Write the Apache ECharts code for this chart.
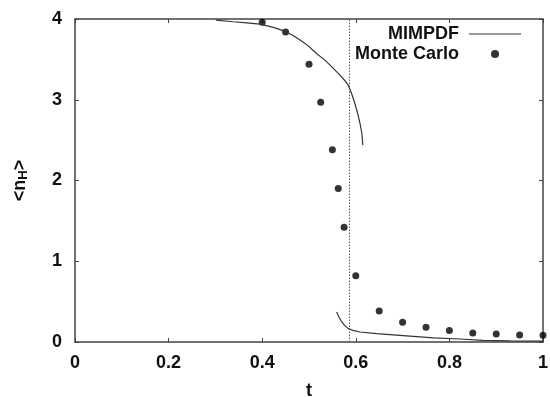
<!DOCTYPE html>
<html>
<head>
<meta charset="utf-8">
<script src="https://cdn.jsdelivr.net/npm/echarts@6/dist/echarts.min.js"></script>
<style>
  html, body { margin: 0; padding: 0; background: #fff; }
  #chart { width: 550px; height: 397px; }
</style>
</head>
<body>
<div id="chart"></div>
<script>
// MIMPDF prediction, upper (ordered) branch: [t, <n_H>]
const mimpdfUpperT = [0.301, 0.338, 0.367, 0.395, 0.424, 0.449, 0.466, 0.481, 0.499, 0.516, 0.534,
                      0.552, 0.566, 0.577, 0.584, 0.591, 0.598, 0.604, 0.609, 0.613, 0.615];
const mimpdfUpperN = [3.986, 3.966, 3.953, 3.937, 3.896, 3.846, 3.796, 3.739, 3.664, 3.573, 3.491,
                      3.388, 3.305, 3.235, 3.181, 3.078, 2.954, 2.830, 2.706, 2.582, 2.437];

// MIMPDF prediction, lower branch
const mimpdfLowerT = [0.559, 0.564, 0.570, 0.577, 0.584, 0.596, 0.609, 0.645, 0.701, 0.766, 0.823, 0.872, 0.93, 1.0];
const mimpdfLowerN = [0.372, 0.31, 0.248, 0.20, 0.166, 0.14, 0.124, 0.104, 0.079, 0.050, 0.037, 0.021, 0.015, 0.012];

// Monte Carlo results
const mcT = [0.40, 0.45, 0.50, 0.525, 0.55, 0.5625, 0.575, 0.60, 0.65, 0.70, 0.75, 0.80, 0.85, 0.90, 0.95, 1.00];
const mcN = [3.96, 3.84, 3.44, 2.97, 2.38, 1.90, 1.42, 0.82, 0.384, 0.244, 0.182, 0.141, 0.112, 0.099, 0.087, 0.083];

// transition temperature marker
const tTransition = 0.585;

const xTicks = [0, 0.2, 0.4, 0.6, 0.8, 1];
const yTicks = [0, 1, 2, 3, 4];

const zip = (a, b) => a.map((v, i) => [v, b[i]]);

const FONT = '"Liberation Sans", Arial, sans-serif';
const axisColor = '#444';
const curveColor = '#333';

const xLabelFmt = v => {
  const r = Math.round(v * 10) / 10;
  return xTicks.some(t => Math.abs(t - r) < 1e-9) ? String(r) : '';
};

function baseX(pos, showLabels) {
  return {
    type: 'value', position: pos, min: 0, max: 1, interval: 0.2,
    axisLine: { show: true, onZero: false, lineStyle: { color: axisColor, width: 1.5 } },
    axisTick: { show: true, inside: true, length: 4, lineStyle: { color: axisColor, width: 1 } },
    splitLine: { show: false },
    axisLabel: {
      show: showLabels, formatter: xLabelFmt, margin: 12,
      color: '#111', fontFamily: FONT, fontWeight: 'bold', fontSize: 18
    }
  };
}
function baseY(pos, showLabels) {
  return {
    type: 'value', position: pos, min: 0, max: 4, interval: 1,
    axisLine: { show: true, onZero: false, lineStyle: { color: axisColor, width: 1.5 } },
    axisTick: { show: true, inside: true, length: 4, lineStyle: { color: axisColor, width: 1 } },
    splitLine: { show: false },
    axisLabel: {
      show: showLabels, margin: 13,
      color: '#111', fontFamily: FONT, fontWeight: 'bold', fontSize: 18
    }
  };
}

const xAxes = [baseX('bottom', true), baseX('top', false)];
xAxes[0].name = 't';
xAxes[0].nameLocation = 'middle';
xAxes[0].nameGap = 40;
xAxes[0].nameTextStyle = { color: '#111', fontFamily: FONT, fontWeight: 'bold', fontSize: 18 };

const yAxes = [baseY('left', true), baseY('right', false)];
yAxes[0].name = '<n{sub|H}>';
yAxes[0].nameLocation = 'middle';
yAxes[0].nameGap = 45;
yAxes[0].nameRotate = 90;
yAxes[0].nameTextStyle = {
  color: '#111', fontFamily: FONT, fontWeight: 'bold', fontSize: 18,
  rich: { sub: { fontFamily: FONT, fontWeight: 'bold', fontSize: 13, verticalAlign: 'bottom', padding: [7, 0, 0, 0] } }
};

// legend line sample: a thin bar centred in the icon box
const lineIcon = 'path://M0,0L0,0.01M0,3.4H52V4.6H0ZM52,8L52,7.99';

const chart = echarts.init(document.getElementById('chart'), null, { renderer: 'canvas' });
chart.setOption({
  animation: false,
  backgroundColor: '#fff',
  grid: { left: 75, right: 7, top: 19, bottom: 55, containLabel: false, outerBoundsMode: 'none' },
  xAxis: xAxes,
  yAxis: yAxes,
  legend: {
    orient: 'vertical',
    align: 'right',
    right: 24,
    top: 19,
    itemWidth: 52,
    itemHeight: 8,
    itemGap: 0,
    selectedMode: false,
    data: [{ name: 'MIMPDF', icon: lineIcon }, { name: 'Monte Carlo' }],
    textStyle: { color: '#111', fontFamily: FONT, fontWeight: 'bold', fontSize: 18, lineHeight: 20, padding: [0, 5, 0, 0] }
  },
  series: [
    {
      name: 'MIMPDF', type: 'line', symbol: 'none',
      data: zip(mimpdfUpperT, mimpdfUpperN),
      lineStyle: { color: curveColor, width: 1.2 },
      itemStyle: { color: curveColor },
      markLine: {
        silent: true, symbol: 'none', label: { show: false },
        lineStyle: { color: '#555', width: 1, type: [1.5, 1.5] },
        data: [[{ coord: [tTransition, 0] }, { coord: [tTransition, 4] }]]
      }
    },
    {
      name: 'MIMPDF', type: 'line', symbol: 'none',
      data: zip(mimpdfLowerT, mimpdfLowerN),
      lineStyle: { color: curveColor, width: 1.2 },
      itemStyle: { color: curveColor }
    },
    {
      name: 'Monte Carlo', type: 'scatter', symbol: 'circle', symbolSize: 7,
      data: zip(mcT, mcN),
      itemStyle: { color: '#000' }
    }
  ]
});
</script>
</body>
</html>
